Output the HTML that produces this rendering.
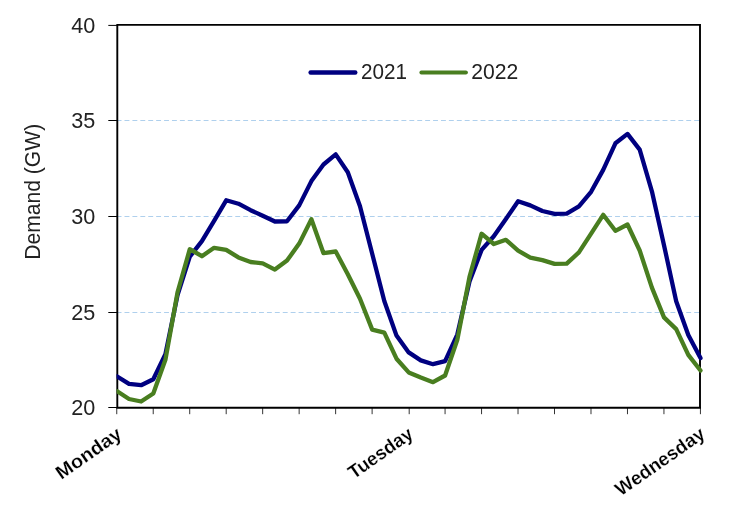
<!DOCTYPE html>
<html><head><meta charset="utf-8"><title>Demand</title>
<style>
html,body{margin:0;padding:0;background:#fff;}
body{width:754px;height:515px;overflow:hidden;}
svg{display:block;}
text{font-family:"Liberation Sans",sans-serif;fill:#222;}
.num{font-size:21.6px;}
.day{font-size:19px;font-weight:bold;fill:#000;stroke:#fff;stroke-width:0.2px;}
</style></head><body>
<svg width="754" height="515" viewBox="0 0 754 515">
<rect x="0" y="0" width="754" height="515" fill="#fff"/>
<path d="M117.3 24.9 H700.0 V407.7" fill="none" stroke="#000" stroke-width="1.9"/>
<line x1="116.6" x2="699.0" y1="312.50" y2="312.50" stroke="#abcdec" stroke-width="0.95" stroke-dasharray="4.9 3.012"/>
<line x1="116.6" x2="699.0" y1="216.50" y2="216.50" stroke="#abcdec" stroke-width="0.95" stroke-dasharray="4.9 3.012"/>
<line x1="116.6" x2="699.0" y1="120.50" y2="120.50" stroke="#abcdec" stroke-width="0.95" stroke-dasharray="4.9 3.012"/>
<path d="M117.3 24.9 V407.7 H700.0" fill="none" stroke="#000" stroke-width="1.9" stroke-linecap="square"/>
<clipPath id="cp"><rect x="116.6" y="20" width="590" height="392"/></clipPath>
<polyline points="116.8,376.3 129.0,383.9 141.1,385.2 153.3,379.3 165.4,354.1 177.6,294.9 189.8,256.6 201.9,241.2 214.1,220.9 226.2,200.3 238.4,203.7 250.6,210.2 262.7,215.7 274.9,221.5 287.0,221.3 299.2,205.4 311.4,181.1 323.5,164.5 335.7,154.4 347.8,172.2 360.0,206.2 372.2,253.8 384.3,301.0 396.5,335.6 408.7,352.4 420.8,360.4 433.0,364.2 445.1,361.2 457.3,334.6 469.5,281.5 481.6,249.9 493.8,236.2 505.9,219.0 518.1,201.2 530.3,205.4 542.4,211.0 554.6,213.8 566.7,213.6 578.9,206.4 591.1,191.8 603.2,169.9 615.4,143.3 627.5,133.9 639.7,149.6 651.9,191.3 664.0,245.2 676.2,301.2 688.3,335.0 700.5,358.1" fill="none" stroke="#000080" stroke-width="4.3" stroke-linejoin="round" stroke-linecap="round" clip-path="url(#cp)"/>
<polyline points="116.8,391.0 129.0,399.0 141.1,401.5 153.3,393.5 165.4,359.8 177.6,292.0 189.8,249.2 201.9,256.2 214.1,247.8 226.2,249.9 238.4,257.4 250.6,262.0 262.7,263.3 274.9,269.6 287.0,260.6 299.2,243.6 311.4,219.2 323.5,253.2 335.7,251.5 347.8,274.2 360.0,298.7 372.2,329.6 384.3,332.7 396.5,358.7 408.7,372.4 420.8,377.6 433.0,382.2 445.1,375.5 457.3,339.8 469.5,276.9 481.6,233.7 493.8,244.0 505.9,239.8 518.1,250.7 530.3,257.6 542.4,260.1 554.6,263.9 566.7,263.7 578.9,252.4 591.1,233.7 603.2,214.8 615.4,230.8 627.5,224.5 639.7,250.5 651.9,287.6 664.0,317.4 676.2,329.1 688.3,354.9 700.5,370.5" fill="none" stroke="#497e20" stroke-width="4.3" stroke-linejoin="round" stroke-linecap="round" clip-path="url(#cp)"/>
<line x1="108.3" x2="117.3" y1="407.50" y2="407.50" stroke="#000" stroke-width="1"/>
<line x1="108.3" x2="117.3" y1="312.50" y2="312.50" stroke="#000" stroke-width="1"/>
<line x1="108.3" x2="117.3" y1="216.50" y2="216.50" stroke="#000" stroke-width="1"/>
<line x1="108.3" x2="117.3" y1="120.50" y2="120.50" stroke="#000" stroke-width="1"/>
<line x1="108.3" x2="117.3" y1="25.40" y2="25.40" stroke="#000" stroke-width="1"/>
<line x1="116.75" x2="116.75" y1="407.7" y2="414.2" stroke="#000" stroke-width="0.8"/>
<line x1="153.23" x2="153.23" y1="407.7" y2="414.2" stroke="#000" stroke-width="0.8"/>
<line x1="189.71" x2="189.71" y1="407.7" y2="414.2" stroke="#000" stroke-width="0.8"/>
<line x1="226.19" x2="226.19" y1="407.7" y2="414.2" stroke="#000" stroke-width="0.8"/>
<line x1="262.67" x2="262.67" y1="407.7" y2="414.2" stroke="#000" stroke-width="0.8"/>
<line x1="299.15" x2="299.15" y1="407.7" y2="414.2" stroke="#000" stroke-width="0.8"/>
<line x1="335.63" x2="335.63" y1="407.7" y2="414.2" stroke="#000" stroke-width="0.8"/>
<line x1="372.11" x2="372.11" y1="407.7" y2="414.2" stroke="#000" stroke-width="0.8"/>
<line x1="409.19" x2="409.19" y1="407.7" y2="414.2" stroke="#000" stroke-width="0.8"/>
<line x1="445.07" x2="445.07" y1="407.7" y2="414.2" stroke="#000" stroke-width="0.8"/>
<line x1="481.55" x2="481.55" y1="407.7" y2="414.2" stroke="#000" stroke-width="0.8"/>
<line x1="518.03" x2="518.03" y1="407.7" y2="414.2" stroke="#000" stroke-width="0.8"/>
<line x1="554.51" x2="554.51" y1="407.7" y2="414.2" stroke="#000" stroke-width="0.8"/>
<line x1="590.99" x2="590.99" y1="407.7" y2="414.2" stroke="#000" stroke-width="0.8"/>
<line x1="627.47" x2="627.47" y1="407.7" y2="414.2" stroke="#000" stroke-width="0.8"/>
<line x1="663.95" x2="663.95" y1="407.7" y2="414.2" stroke="#000" stroke-width="0.8"/>
<line x1="700.43" x2="700.43" y1="407.7" y2="414.2" stroke="#000" stroke-width="0.8"/>
<text class="num" x="95.3" y="414.6" text-anchor="end">20</text>
<text class="num" x="95.3" y="319.6" text-anchor="end">25</text>
<text class="num" x="95.3" y="223.6" text-anchor="end">30</text>
<text class="num" x="95.3" y="127.6" text-anchor="end">35</text>
<text class="num" x="95.3" y="32.5" text-anchor="end">40</text>
<text class="num" transform="translate(40.4,259.8) rotate(-90)" textLength="136" lengthAdjust="spacingAndGlyphs">Demand (GW)</text>
<line x1="310.6" x2="355.3" y1="72.5" y2="72.5" stroke="#000080" stroke-width="4.4" stroke-linecap="round"/>
<text class="num" x="361" y="78.8" textLength="46" lengthAdjust="spacingAndGlyphs">2021</text>
<line x1="421.4" x2="465.9" y1="72.5" y2="72.5" stroke="#497e20" stroke-width="4.0" stroke-linecap="round"/>
<text class="num" x="471.3" y="78.8" textLength="47" lengthAdjust="spacingAndGlyphs">2022</text>
<text class="day" transform="translate(123.1,436.8) rotate(-35)" text-anchor="end" textLength="75.5" lengthAdjust="spacingAndGlyphs">Monday</text>
<text class="day" transform="translate(414.6,436.8) rotate(-35)" text-anchor="end" textLength="74.3" lengthAdjust="spacingAndGlyphs">Tuesday</text>
<text class="day" transform="translate(706.3,436.8) rotate(-35)" text-anchor="end" textLength="104.3" lengthAdjust="spacingAndGlyphs">Wednesday</text>
</svg>
</body></html>
